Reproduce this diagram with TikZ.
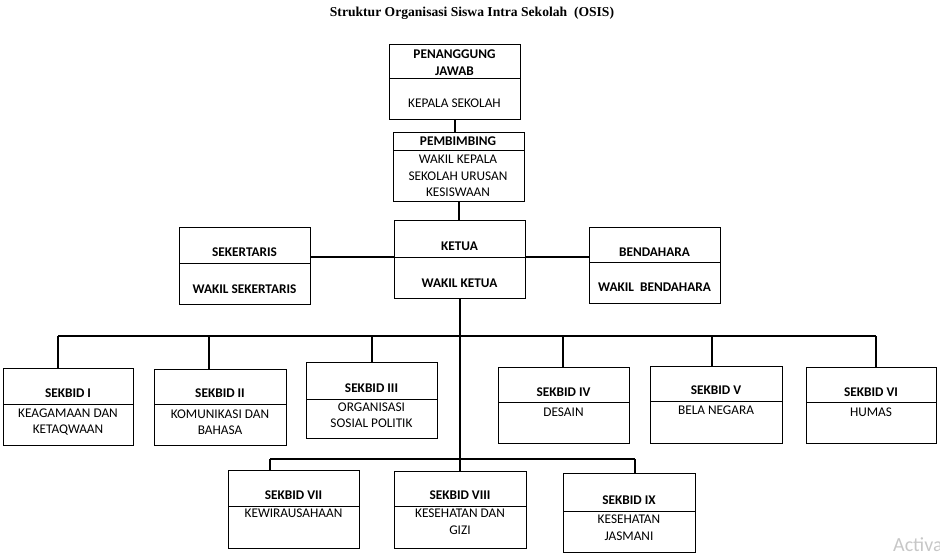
\documentclass[tikz,border=0pt]{standalone}
\usepackage{fontspec}
\setmainfont{Carlito}
\newfontfamily\titlefont{Liberation Serif}
\usetikzlibrary{positioning}

\tikzset{
  part/.style={draw, line width=0.9pt, inner sep=0pt, outer sep=0pt, minimum width=131},
  head/.style={font=\fontsize{13.3}{16.5}\selectfont\bfseries, align=center, inner sep=0pt},
  body/.style={font=\fontsize{13.3}{16.5}\selectfont, align=center, inner sep=0pt},
  link/.style={line width=2pt},
}

\begin{document}
\begin{tikzpicture}[x=1pt,y=-1pt]
            \useasboundingbox (0,0) rectangle (940,555);
            \node[font=\titlefont\fontsize{13.6}{16}\selectfont\bfseries] (title) at (472,13) {Struktur Organisasi Siswa Intra Sekolah\ \ (OSIS)};

            % penanggung jawab
            \node[part, minimum height=34, anchor=north west] (pj) at (389,44) {};
            \node[part, minimum height=41, below=0pt of pj] (pj-b) {};
            \node[head] (pj-t) at (454.5,62.5) {PENANGGUNG\\JAWAB};
            \node[body] (pj-x) at (454.5,103) {KEPALA SEKOLAH};

            % pembimbing
            \node[part, minimum height=18, anchor=north west] (pb) at (393,132) {};
            \node[part, minimum height=51, below=0pt of pb] (pb-b) {};
            \node[head] (pb-t) at (458,141) {PEMBIMBING};
            \node[body] (pb-x) at (458,176) {WAKIL KEPALA\\SEKOLAH URUSAN\\KESISWAAN};

            % ketua
            \node[part, minimum height=37, anchor=north west] (ketua) at (394,220) {};
            \node[part, minimum height=41, below=0pt of ketua] (ketua-b) {};
            \node[head] (ketua-t) at (459.5,246) {KETUA};
            \node[head] (ketua-x) at (459.5,283) {WAKIL KETUA};

            % sekertaris
            \node[part, minimum height=36, anchor=north west] (sek) at (179,227) {};
            \node[part, minimum height=41, below=0pt of sek] (sek-b) {};
            \node[head] (sek-t) at (244.5,252) {SEKERTARIS};
            \node[head] (sek-x) at (244.5,289) {WAKIL SEKERTARIS};

            % bendahara
            \node[part, minimum height=35, anchor=north west] (ben) at (589,227) {};
            \node[part, minimum height=41, below=0pt of ben] (ben-b) {};
            \node[head] (ben-t) at (654.5,252) {BENDAHARA};
            \node[head] (ben-x) at (654.5,287) {WAKIL\ \ BENDAHARA};

            % sekbid baris atas
            \node[part, minimum width=130, minimum height=36, anchor=north west] (s1) at (3,368) {};
            \node[part, minimum width=130, minimum height=41, below=0pt of s1] (s1-b) {};
            \node[head] (s1-t) at (68,393) {SEKBID I};
            \node[body] (s1-x) at (68,422) {KEAGAMAAN DAN\\KETAQWAAN};

            \node[part, minimum width=132, minimum height=35, anchor=north west] (s2) at (154,369) {};
            \node[part, minimum width=132, minimum height=41, below=0pt of s2] (s2-b) {};
            \node[head] (s2-t) at (220,393) {SEKBID II};
            \node[body] (s2-x) at (220,422) {KOMUNIKASI DAN\\BAHASA};

            \node[part, minimum height=37, anchor=north west] (s3) at (306,362) {};
            \node[part, minimum height=39, below=0pt of s3] (s3-b) {};
            \node[head] (s3-t) at (371.5,388) {SEKBID III};
            \node[body] (s3-x) at (371.5,415) {ORGANISASI\\SOSIAL POLITIK};

            \node[part, minimum height=35, anchor=north west] (s4) at (498,367) {};
            \node[part, minimum height=41, below=0pt of s4] (s4-b) {};
            \node[head] (s4-t) at (563.5,392) {SEKBID IV};
            \node[body] (s4-x) at (563.5,412) {DESAIN};

            \node[part, minimum width=132, minimum height=35, anchor=north west] (s5) at (650,366) {};
            \node[part, minimum width=132, minimum height=42, below=0pt of s5] (s5-b) {};
            \node[head] (s5-t) at (716,390) {SEKBID V};
            \node[body] (s5-x) at (716,410) {BELA NEGARA};

            \node[part, minimum width=130, minimum height=35, anchor=north west] (s6) at (806,367) {};
            \node[part, minimum width=130, minimum height=41, below=0pt of s6] (s6-b) {};
            \node[head] (s6-t) at (871,392) {SEKBID VI};
            \node[body] (s6-x) at (871,412) {HUMAS};

            % sekbid baris bawah
            \node[part, minimum height=36, anchor=north west] (s7) at (228,470) {};
            \node[part, minimum height=42, below=0pt of s7] (s7-b) {};
            \node[head] (s7-t) at (293.5,495) {SEKBID VII};
            \node[body] (s7-x) at (293.5,513) {KEWIRAUSAHAAN};

            \node[part, minimum width=132, minimum height=35, anchor=north west] (s8) at (394,471) {};
            \node[part, minimum width=132, minimum height=42, below=0pt of s8] (s8-b) {};
            \node[head] (s8-t) at (460,495) {SEKBID VIII};
            \node[body] (s8-x) at (460,521.5) {KESEHATAN DAN\\GIZI};

            \node[part, minimum width=132, minimum height=38, anchor=north west] (s9) at (563,473) {};
            \node[part, minimum width=132, minimum height=41, below=0pt of s9] (s9-b) {};
            \node[head] (s9-t) at (629,500) {SEKBID IX};
            \node[body] (s9-x) at (629,527.5) {KESEHATAN\\JASMANI};

            % garis
            \draw[link] (pj-b.south) -- (pj-b.south |- pb.north);
            \draw[link] (pb-b.south) -- (pb-b.south |- ketua.north);
            \draw[link] (ketua.south west) -- (ketua.south west -| sek.east);
            \draw[link] (ketua.south east) -- (ketua.south east -| ben.west);
            \draw[link] (ketua-b.south) -- (ketua-b.south |- s8.north);

            \coordinate (d1) at (58,336);
            \coordinate (d2) at (209,336);
            \coordinate (d3) at (372,336);
            \coordinate (d4) at (563,336);
            \coordinate (d5) at (712,336);
            \coordinate (d6) at (876,336);
            \draw[link] (d1) -- (d6);
            \draw[link] (d1) -- (d1 |- s1.north);
            \draw[link] (d2) -- (d2 |- s2.north);
            \draw[link] (d3) -- (d3 |- s3.north);
            \draw[link] (d4) -- (d4 |- s4.north);
            \draw[link] (d5) -- (d5 |- s5.north);
            \draw[link] (d6) -- (d6 |- s6.north);

            \coordinate (d7) at (270,459);
            \coordinate (d9) at (635,459);
            \draw[link] (d7) -- (d9);
            \draw[link] (d7) -- (d7 |- s7.north);
            \draw[link] (d9) -- (d9 |- s9.north);

            \node[anchor=base west, text=black!22, font=\fontsize{20}{24}\selectfont, inner sep=0pt] (wm) at (893,551) {Activa};
\end{tikzpicture}
\end{document}
